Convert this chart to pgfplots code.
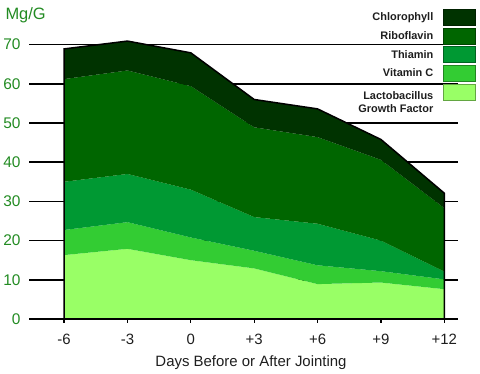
\documentclass[border=0pt]{standalone}
\usepackage{fontspec}
\setmainfont{Liberation Sans}
\usepackage{pgfplots}
\pgfplotsset{compat=1.18}
\definecolor{chloroC}{RGB}{0,51,0}
\definecolor{riboC}{RGB}{0,102,0}
\definecolor{thiaC}{RGB}{0,153,51}
\definecolor{vitcC}{RGB}{51,204,51}
\definecolor{lactoC}{RGB}{153,255,102}
\definecolor{tickgreen}{RGB}{34,139,34}
\definecolor{txt}{RGB}{30,30,30}
\newcommand{\legbox}[2]{\draw[fill=#1, draw=#1!65!black, line width=0.7bp] (0bp,-8bp+#2) rectangle (32bp,8bp+#2);}
\begin{document}
\begin{tikzpicture}
\path (0,0) rectangle (480bp,374bp);
\begin{axis}[
  at={(29bp,55bp)}, anchor=south west,
  scale only axis, width=429bp, height=282.24bp,
  xmin=-7.66, xmax=12.65, ymin=0, ymax=72,
  clip=false,
  stack plots=y, reverse stacked plots=false,
  axis line style={draw=none},
  xtick={-6,-3,0,3,6,9,12},
  xticklabels={-6,-3,0,+3,+6,+9,+12},
  xtick pos=bottom, ytick pos=left,
  ytick={0,10,...,70},
  ytick style={draw=none},
  xtick style={black, line width=1.2bp},
  tick align=outside, major tick length=4bp,
  xticklabel style={font=\fontsize{15}{18}\selectfont, text=txt, yshift=-7.5bp},
  yticklabel style={font=\fontsize{15.5}{18}\selectfont, text=tickgreen, xshift=-1bp},
  /pgf/number format/assume math mode=true,
  xlabel={Days Before or After Jointing},
  ylabel={Mg/G},
  every axis x label/.style={at={(axis description cs:0.5,0)}, anchor=base, yshift=-47.7bp, xshift=7.5bp, font=\fontsize{15}{18}\selectfont, text=txt},
  every axis y label/.style={at={(axis description cs:0,1)}, anchor=base west, xshift=-27bp, yshift=17.3bp, font=\fontsize{16.5}{19}\selectfont, text=tickgreen},
  legend style={at={(axis description cs:1.042,1.098)}, anchor=north east, draw=none, fill=none, inner sep=0pt, outer sep=0pt,
    nodes={inner sep=0pt, font=\bfseries\fontsize{11}{13}\selectfont, text=txt, align=right},
    column sep=10bp, row sep=2bp},
  reverse legend,
  legend cell align=right, legend plot pos=right,
  unbounded coords=jump,
]
% horizontal grid lines (drawn first, behind the areas)
\addplot[forget plot, stack plots=false, draw=black, line width=1.5bp] coordinates {
  (-7.66,0)(12.65,0)(0,nan)
  (-7.66,10)(12.65,10)(0,nan)
  (-7.66,20)(12.65,20)(0,nan)
  (-7.66,30)(12.65,30)(0,nan)
  (-7.66,40)(12.65,40)(0,nan)
  (-7.66,50)(12.65,50)(0,nan)
  (-7.66,60)(12.65,60)(0,nan)
  (-7.66,70)(12.65,70)};
\addplot[fill=lactoC, draw=none, legend image code/.code={\legbox{lactoC}{10.5bp}}] coordinates {(-6,16.3)(-3,17.9)(0,15.0)(3,12.9)(6,8.9)(9,9.3)(12,7.6)} \closedcycle;
\addlegendentry{Lactobacillus\\Growth Factor}
\addplot[fill=vitcC, draw=none, legend image code/.code={\legbox{vitcC}{0bp}}] coordinates {(-6,6.4)(-3,6.8)(0,5.8)(3,4.5)(6,4.8)(9,2.9)(12,2.5)} \closedcycle;
\addlegendentry{Vitamin C}
\addplot[fill=thiaC, draw=none, legend image code/.code={\legbox{thiaC}{0bp}}] coordinates {(-6,12.3)(-3,12.3)(0,12.2)(3,8.6)(6,10.6)(9,7.8)(12,2.0)} \closedcycle;
\addlegendentry{Thiamin}
\addplot[fill=riboC, draw=none, legend image code/.code={\legbox{riboC}{0bp}}] coordinates {(-6,26.2)(-3,26.4)(0,26.4)(3,22.9)(6,22.1)(9,20.6)(12,16.2)} \closedcycle;
\addlegendentry{Riboflavin}
\addplot[fill=chloroC, draw=none, legend image code/.code={\legbox{chloroC}{0bp}}] coordinates {(-6,7.7)(-3,7.5)(0,8.5)(3,7.1)(6,7.2)(9,5.2)(12,3.8)} \closedcycle;
\addlegendentry{Chlorophyll}
\addplot[stack plots=false, forget plot, draw=black, line width=1.5bp] coordinates {(-6,0)(-6,68.9)(-3,70.9)(0,67.9)(3,56.0)(6,53.6)(9,45.8)(12,32.1)(12,0)} -- cycle;
\end{axis}
\end{tikzpicture}
\end{document}
